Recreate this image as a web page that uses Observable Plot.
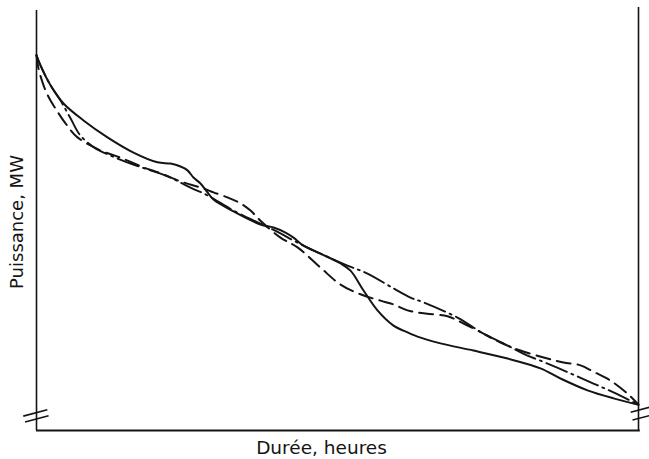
<!DOCTYPE html>
<html>
<head>
<meta charset="utf-8">
<script src="https://cdn.jsdelivr.net/npm/d3@7"></script>
<script src="https://cdn.jsdelivr.net/npm/@observablehq/plot@0.6"></script>
<style>
  html, body { margin: 0; padding: 0; background: #fff; }
  svg { display: block; }
</style>
</head>
<body>
<div id="chart"></div>
<script>
// Durée (% du temps) et puissance (% de l'échelle)
const solidX = [0,0.66,2.33,4.49,7.81,11.79,16.11,20.10,22.26,23.92,25.08,26.08,27.24,28.41,29.40,32.72,37.21,39.37,41.36,42.69,44.35,47.18,50.50,52.16,54.32,56.64,59.30,60.96,63.29,67.11,72.59,78.24,83.72,87.04,91.53,95.85,100];
const solidY = [88.7,86.3,81.6,77.3,73.3,69.3,65.7,63.4,63.1,62.4,61.5,59.8,58.4,56.3,54.6,51.8,48.7,48.0,46.8,45.6,43.7,41.8,39.5,37.8,33.1,28.4,24.8,23.6,22.2,20.6,18.9,17.0,14.7,12.3,9.5,7.6,6.1];

const dashedX = [0,0.33,1.00,1.50,2.33,3.16,4.82,6.81,10.63,13.95,17.77,20.60,23.92,27.74,29.40,31.73,33.89,35.55,37.21,40.53,43.36,47.18,50.50,53.82,57.14,59.30,61.63,64.29,68.27,70.93,74.25,77.08,80.40,84.88,87.54,90.37,92.52,95.35,98.17,100];
const dashedY = [88.7,85.6,82.3,80.4,78.0,76.1,72.6,69.3,66.2,64.5,62.2,60.8,58.9,57.2,56.3,55.1,53.7,52.0,49.6,45.6,43.3,38.5,34.5,32.2,30.7,29.8,28.4,27.7,27.0,25.3,22.9,20.8,18.9,17.0,16.1,15.4,13.9,11.8,8.7,6.1];

const dashDotX = [0,0.66,2.33,3.99,5.65,7.31,9.80,12.29,15.61,18.94,22.26,25.58,28.41,32.72,37.21,40.53,42.69,47.18,51.66,54.98,59.30,62.13,64.29,69.93,74.25,78.24,81.56,83.72,88.70,92.52,95.85,100];
const dashDotY = [88.7,86.3,81.6,78.0,73.8,69.7,66.7,65.0,63.1,61.5,59.8,57.4,55.6,52.0,48.9,46.6,44.9,41.8,39.0,37.1,33.6,31.4,30.3,26.7,22.9,20.1,17.7,16.5,13.5,11.1,9.0,6.1];

const xLabel = "Durée, heures";
const yLabel = "Puissance, MW";

// axis break (coupure) positions in data units
const breakLeftY = 3.7;
const breakRightY = 4.4;

const solid = solidX.map((x, i) => ({x, y: solidY[i]}));
const dashed = dashedX.map((x, i) => ({x, y: dashedY[i]}));
const dashDot = dashDotX.map((x, i) => ({x, y: dashDotY[i]}));

const breaks = [
  {x1: -2.2, x2: 1.8, y1: breakLeftY - 0.3, y2: breakLeftY + 1.2},
  {x1: -1.9, x2: 2.0, y1: breakLeftY - 1.7, y2: breakLeftY - 0.2},
  {x1: 98.7, x2: 101.8, y1: breakRightY - 0.1, y2: breakRightY + 1.1},
  {x1: 99.0, x2: 101.8, y1: breakRightY - 1.9, y2: breakRightY - 0.9}
];

const ink = "#141414";
const font = "'DejaVu Sans', sans-serif";

const chart = Plot.plot({
  width: 649,
  height: 459,
  marginLeft: 36,
  marginRight: 11,
  marginTop: 7,
  marginBottom: 29,
  x: {domain: [0, 100], axis: null},
  y: {domain: [0, 100], axis: null},
  style: {background: "#fff", fontFamily: font},
  marks: [
    Plot.ruleX([0], {y1: 0, y2: 99.3, stroke: ink, strokeWidth: 1.6}),
    Plot.ruleX([100], {y1: 0, y2: 100, stroke: ink, strokeWidth: 1.6}),
    Plot.ruleY([0], {x1: 0, x2: 100.3, stroke: ink, strokeWidth: 1.9}),
    Plot.link(breaks, {x1: "x1", x2: "x2", y1: "y1", y2: "y2", stroke: ink, strokeWidth: 1.6}),
    Plot.line(dashDot, {x: "x", y: "y", curve: "catmull-rom", stroke: ink, strokeWidth: 1.9, strokeDasharray: "22,5,2,5"}),
    Plot.line(dashed, {x: "x", y: "y", curve: "catmull-rom", stroke: ink, strokeWidth: 2, strokeDasharray: "14,7"}),
    Plot.line(solid, {x: "x", y: "y", curve: "catmull-rom", stroke: ink, strokeWidth: 2}),
    Plot.text([xLabel], {frameAnchor: "bottom", textAnchor: "middle", lineAnchor: "middle", dx: -16, dy: 18, text: d => d, fontSize: 18.5, fill: ink, fontFamily: font}),
    Plot.text([yLabel], {frameAnchor: "left", textAnchor: "middle", lineAnchor: "middle", dx: -19, dy: 3, rotate: -90, text: d => d, fontSize: 18, fill: ink, fontFamily: font})
  ]
});
document.getElementById("chart").appendChild(chart);
</script>
</body>
</html>
